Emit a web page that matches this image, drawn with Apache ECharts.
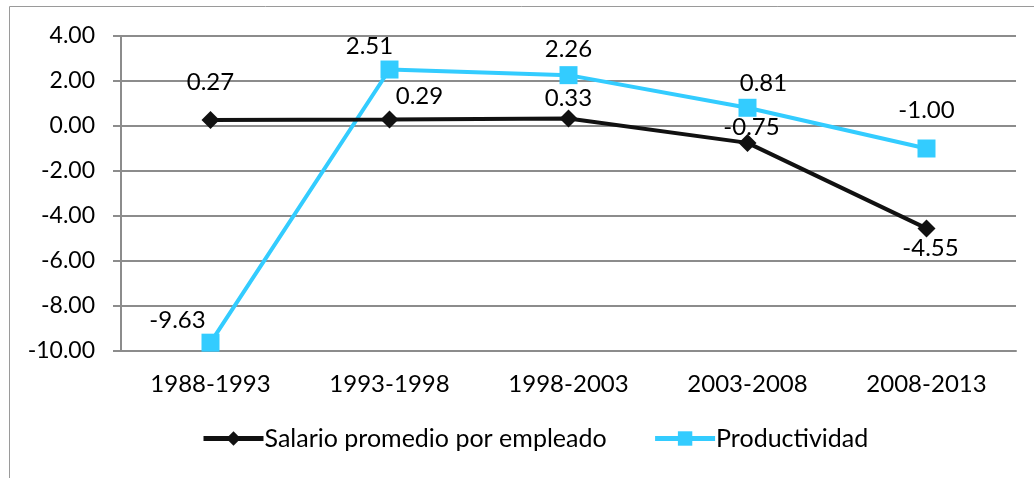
<!DOCTYPE html>
<html>
<head>
<meta charset="utf-8">
<script src="https://cdn.jsdelivr.net/npm/echarts@6/dist/echarts.min.js"></script>
<style>
  html, body { margin: 0; padding: 0; background: #fff; }
  #main { width: 1034px; height: 478px; }
</style>
</head>
<body>
<div id="main"></div>
<script>
// periods on the x axis
const periods = ['1988-1993', '1993-1998', '1998-2003', '2003-2008', '2008-2013'];
// series values
const salario = [0.27, 0.29, 0.33, -0.75, -4.55];
const productividad = [-9.63, 2.51, 2.26, 0.81, -1.00];

const FONT = 'Lato';
const GRID_C = '#8c8c8c';

// label placement per point, excel style
function withLabels(values, pos) {
  return values.map((v, i) => ({
    value: v,
    label: { position: pos[i][0], offset: pos[i][1] }
  }));
}

const salarioPos = [
  ['top', [0, -12]], ['top', [30, 3]], ['top', [0, 6]], ['top', [4, 10]], ['bottom', [4, -6]]
];
const prodPos = [
  ['top', [-33, 4]], ['top', [-20, 3]], ['top', [0, 0]], ['top', [16, 1]], ['top', [0, -12]]
];

const chart = echarts.init(document.getElementById('main'));

chart.setOption({
  animation: false,
  textStyle: { fontFamily: FONT },
  graphic: [{
    type: 'polyline',
    shape: { points: [[9.5, 478], [9.5, 6.5], [1034, 6.5]] },
    style: { stroke: '#9a9a9a', lineWidth: 1, fill: null }
  }],
  grid: { left: 121, right: 18, top: 36, bottom: 127 },
  legend: {
    bottom: 22,
    left: 196,
    itemGap: 46,
    itemWidth: 60,
    itemHeight: 18,
    lineStyle: { width: 5 },
    textStyle: { fontFamily: FONT, fontSize: 25, color: '#000', padding: [0, 0, 0, -4] },
    data: ['Salario promedio por empleado', 'Productividad']
  },
  xAxis: {
    type: 'category',
    data: periods,
    boundaryGap: true,
    axisLine: { onZero: false, lineStyle: { color: GRID_C, width: 2 } },
    axisTick: { show: false },
    axisLabel: { fontFamily: FONT, fontSize: 24, color: '#000', margin: 21 }
  },
  yAxis: {
    type: 'value',
    min: -10,
    max: 4,
    interval: 2,
    axisLine: { show: true, lineStyle: { color: GRID_C, width: 2 } },
    axisTick: { show: true, length: 8, lineStyle: { color: GRID_C, width: 2 } },
    splitLine: { lineStyle: { color: GRID_C, width: 2 } },
    axisLabel: {
      fontFamily: FONT, fontSize: 23, color: '#000', margin: 26,
      formatter: v => v.toFixed(2)
    }
  },
  series: [
    {
      name: 'Salario promedio por empleado',
      type: 'line',
      data: withLabels(salario, salarioPos),
      symbol: 'diamond',
      symbolSize: 18,
      lineStyle: { color: '#111', width: 4 },
      itemStyle: { color: '#111' },
      label: {
        show: true, fontFamily: FONT, fontSize: 24, color: '#000',
        formatter: p => p.value.toFixed(2)
      },
      z: 3
    },
    {
      name: 'Productividad',
      type: 'line',
      data: withLabels(productividad, prodPos),
      symbol: 'rect',
      symbolSize: 18,
      lineStyle: { color: '#33ccff', width: 4 },
      itemStyle: { color: '#33ccff' },
      label: {
        show: true, fontFamily: FONT, fontSize: 24, color: '#000',
        formatter: p => p.value.toFixed(2)
      },
      z: 2
    }
  ]
});
</script>
</body>
</html>
